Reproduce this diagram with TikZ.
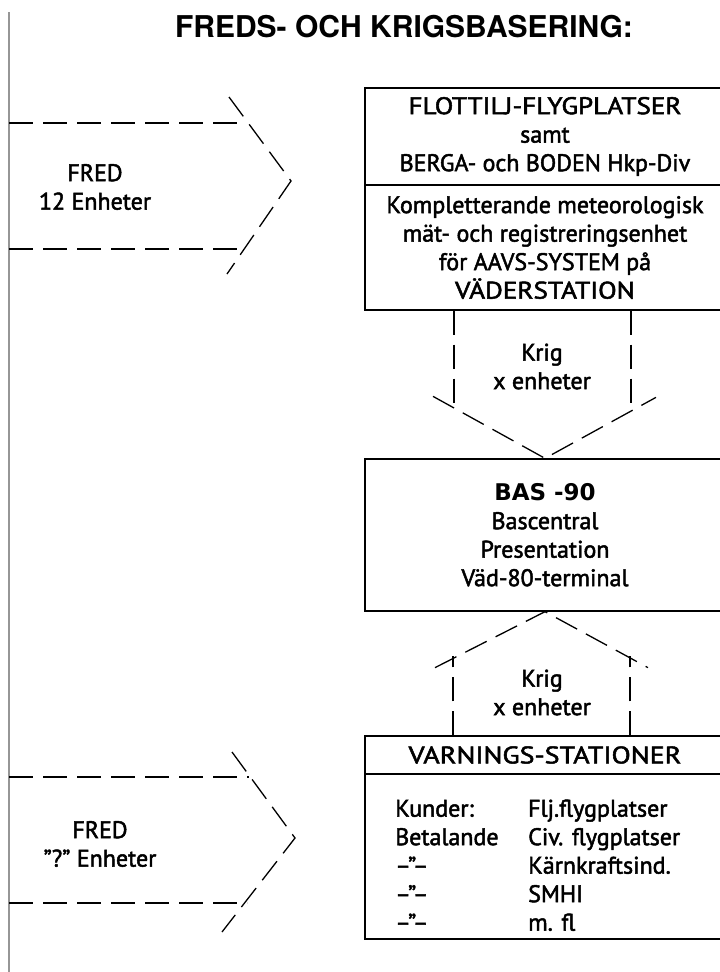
\documentclass[tikz,border=0pt]{standalone}
\usepackage{graphicx}
\usepackage{fontspec}
\setmainfont{PT Sans}
\newfontfamily\bodyfont{PT Sans}[Ligatures=TeX, FakeBold=2]
\newfontfamily\headfont{TeX Gyre Heros}
\newfontfamily\basfont{DejaVu Sans}
\newcommand{\wide}[1]{\scalebox{1.13}[1]{#1}}
\usetikzlibrary{positioning}
\definecolor{rulegray}{RGB}{150,150,150}

\tikzset{
  box/.style={draw, line width=1.3pt, minimum width=360pt, inner sep=0pt,
              font=\bodyfont\fontsize{24}{28.5}\selectfont, align=center},
  boxtext/.style={font=\bodyfont\fontsize{24}{28.5}\selectfont, align=center, inner sep=0pt},
  dashline/.style={line width=1.3pt, dash pattern=on 24pt off 10pt},
}

\begin{document}
\begin{tikzpicture}[x=1pt, y=-1pt]
    \useasboundingbox (0,0) rectangle (720,972);

    % Title
    \node[font=\headfont\bfseries\fontsize{30}{36}\selectfont] (title)
          at (404,27) {FREDS- OCH KRIGSBASERING:};

    % Left rule
    \draw[rulegray, line width=1.5pt] (9,12) -- (9,972);

    % Flottilj boxes
    \node[box, minimum height=97pt] (flott) at (545,136.5)
          {\wide{FLOTTILJ-FLYGPLATSER}\\samt\\BERGA- och BODEN Hkp-Div};
    \node[box, minimum height=125pt] (komp) at (545,247.5)
          {Kompletterande meteorologisk\\mät- och registreringsenhet\\för AAVS-SYSTEM på\\\wide{VÄDERSTATION}};

    % Bascentral
    \node[box, minimum height=152pt] (bas) at (545,535)
          {{\basfont\bfseries\fontsize{23}{29}\selectfont BAS -90}\\Bascentral\\Presentation\\Väd-80-terminal};

    % Varningsstationer
    \node[box, minimum height=38pt] (varn) at (545,755)
          {\scalebox{1.17}[1]{VARNINGS-STATIONER}};
    \node[box, minimum height=165pt] (kund) at (545,856.5) {};
    \node[boxtext, anchor=north west] (kundtab) at (395,796.5) {%
        \begin{tabular}{@{}p{133pt}@{}l@{}}
        Kunder: & Flj.flygplatser\\
        Betalande & Civ. flygplatser\\
        --"-- & Kärnkraftsind.\\
        --"-- & SMHI\\
        --"-- & m. fl
        \end{tabular}};

    % Krig arrow down
    \coordinate (kl) at ([xshift=-91pt]komp.south);
    \coordinate (kr) at ([xshift=86pt]komp.south);
    \draw[dashline] (kl) -- ++(0,100);
    \draw[dashline] (kr) -- ++(0,100);
    \draw[dashline] ([shift={(-112,-62)}]bas.north) -- (bas.north)
          -- ([shift={(111,-61)}]bas.north);
    \node[boxtext] (krig1) at (542,366.5) {Krig\\x enheter};

    % Krig arrow up
    \coordinate (ul) at ([xshift=-92pt]varn.north);
    \coordinate (ur) at ([xshift=85pt]varn.north);
    \draw[dashline] (ul) -- ++(0,-79);
    \draw[dashline] (ur) -- ++(0,-79);
    \draw[dashline] ([shift={(-110,56)}]bas.south) -- (bas.south)
          -- ([shift={(103,56)}]bas.south);
    \node[boxtext] (krig2) at (542,692.5) {Krig\\x enheter};

    % Fred arrow top
    \coordinate (f1a) at (9,123);
    \coordinate (f1b) at (9,249);
    \coordinate (f1tip) at (291,181);
    \draw[dashline] (f1a) -- (243,123);
    \draw[dashline] (f1b) -- (242,249);
    \draw[dashline] (229,97) -- (f1tip) -- (227,274);
    \node[boxtext] (fred1) at (95,187) {FRED\\12 Enheter};

    % Fred arrow bottom
    \coordinate (f2a) at (9,777);
    \coordinate (f2b) at (9,903);
    \coordinate (f2tip) at (295,838);
    \draw[dashline] (f2a) -- (249,777);
    \draw[dashline] (f2b) -- (247,903);
    \draw[dashline] (232,752) -- (f2tip) -- (222,932);
    \node[boxtext] (fred2) at (100,844) {FRED\\"?" Enheter};
\end{tikzpicture}
\end{document}
